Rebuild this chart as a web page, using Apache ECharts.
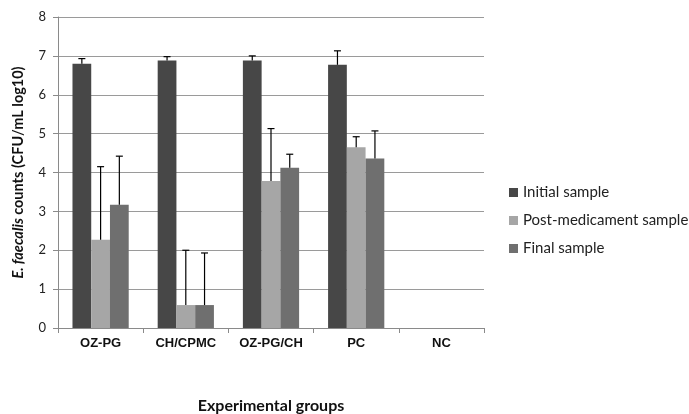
<!DOCTYPE html>
<html>
<head>
<meta charset="utf-8">
<script src="https://cdn.jsdelivr.net/npm/echarts@6/dist/echarts.min.js"></script>
<style>html,body{margin:0;padding:0;background:#fff}#c{width:689px;height:414px}</style>
</head>
<body>
<div id="c"></div>
<script>
var categories = ['OZ-PG', 'CH/CPMC', 'OZ-PG/CH', 'PC', 'NC'];
var seriesNames = ['Initial sample', 'Post-medicament sample', 'Final sample'];
var initialSample = [6.80, 6.88, 6.88, 6.77, null];
var postSample = [2.27, 0.59, 3.78, 4.65, null];
var finalSample = [3.17, 0.59, 4.12, 4.36, null];
var initialErr = [0.13, 0.10, 0.12, 0.36, null];
var postErr = [1.88, 1.41, 1.35, 0.27, null];
var finalErr = [1.25, 1.34, 0.35, 0.71, null];
var yTicks = [0, 1, 2, 3, 4, 5, 6, 7, 8];

var colors = ['#474747', '#a6a6a6', '#6f6f6f'];
var values = [initialSample, postSample, finalSample];
var errs = [initialErr, postErr, finalErr];
var catGap = 0.34;

var chart = echarts.init(document.getElementById('c'));
var series = [];
values.forEach(function (v, i) {
  series.push({
    name: seriesNames[i], type: 'bar', data: v,
    barGap: '0%', barCategoryGap: (catGap * 100) + '%',
    itemStyle: { color: colors[i] }, z: 2
  });
});
values.forEach(function (v, i) {
  var data = v.map(function (m, k) { return m == null ? null : [k, m, m + errs[i][k]]; }).filter(function (d) { return d; });
  series.push({
    type: 'custom', data: data, z: 3, silent: true,
    encode: { x: 0, y: [1, 2] },
    renderItem: function (params, api) {
      var band = api.size([1, 0])[0];
      var bw = band * (1 - catGap) / 3;
      var off = (i - 1) * bw;
      var base = api.coord([api.value(0), api.value(1)]);
      var top = api.coord([api.value(0), api.value(2)]);
      var x = base[0] + off;
      var st = { stroke: '#000', lineWidth: 1.2 };
      return { type: 'group', children: [
        { type: 'line', shape: { x1: x, y1: base[1], x2: x, y2: top[1] }, style: st },
        { type: 'line', shape: { x1: x - 3.5, y1: top[1], x2: x + 3.5, y2: top[1] }, style: st }
      ] };
    }
  });
});

chart.setOption({
  animation: false,
  backgroundColor: '#fff',
  grid: { left: 58, right: 205, top: 17, bottom: 86, containLabel: false, outerBoundsMode: 'none' },
  legend: {
    data: seriesNames, orient: 'vertical', left: 504, top: 180,
    itemWidth: 9, itemHeight: 9, itemGap: 13, icon: 'rect',
    textStyle: { fontFamily: 'Lato', fontSize: 15, color: '#222' }
  },
  xAxis: {
    type: 'category', data: categories,
    axisLine: { lineStyle: { color: '#8a8a8a', width: 1 } },
    axisTick: { show: true, length: 5, lineStyle: { color: '#8a8a8a' } },
    axisLabel: { fontFamily: 'Liberation Sans', fontWeight: 'bold', fontSize: 13, color: '#111', margin: 9 },
    name: 'Experimental groups', nameLocation: 'middle', nameGap: 70,
    nameTextStyle: { fontFamily: 'Lato', fontWeight: 'bold', fontSize: 16, color: '#111' }
  },
  yAxis: {
    type: 'value', min: yTicks[0], max: yTicks[yTicks.length - 1], interval: 1,
    axisLine: { show: true, lineStyle: { color: '#8a8a8a' } },
    axisTick: { show: true, length: 5, lineStyle: { color: '#8a8a8a' } },
    splitLine: { lineStyle: { color: '#9a9a9a', width: 1 } },
    axisLabel: { fontFamily: 'Lato', fontSize: 13, color: '#222', margin: 12 },
    name: '{i|E. faecalis} {b|counts (CFU/mL log10)}', nameLocation: 'middle', nameGap: 32,
    nameRotate: 90,
    nameTextStyle: {
      rich: {
        i: { fontFamily: 'Lato', fontStyle: 'italic', fontWeight: 'bold', fontSize: 14.5, color: '#111' },
        b: { fontFamily: 'Lato', fontWeight: 'bold', fontSize: 14.5, color: '#111' }
      }
    }
  },
  series: series
});
</script>
</body>
</html>
